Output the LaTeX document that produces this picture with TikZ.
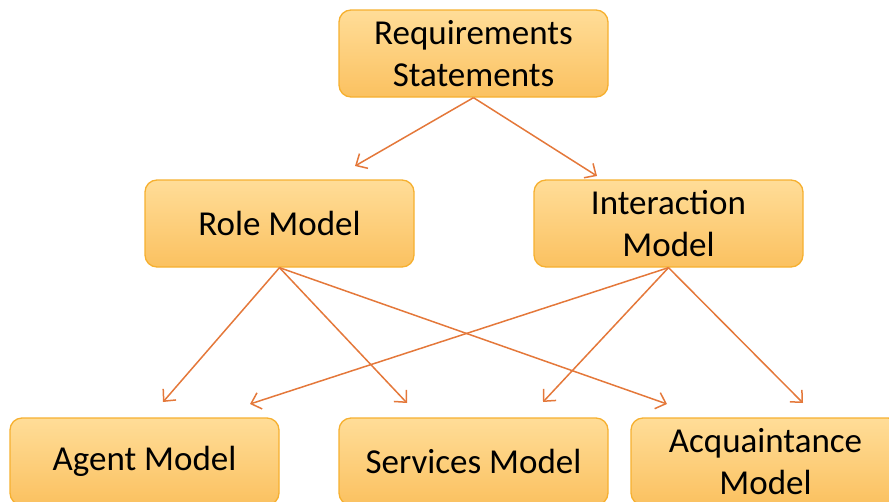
\documentclass[tikz,border=0pt]{standalone}
\usepackage{fontspec}
\setmainfont{Carlito}
\usetikzlibrary{arrows.meta,positioning}
\definecolor{boxtop}{HTML}{FFDD98}
\definecolor{boxbottom}{HTML}{FBC160}
\definecolor{boxline}{HTML}{F6B030}
\definecolor{arrowline}{HTML}{E4783A}
\tikzset{model/.style={rectangle,rounded corners=12pt,draw=boxline,line width=1.3pt,top color=boxtop,bottom color=boxbottom,minimum width=269pt,minimum height=87pt,align=center,font=\fontsize{35}{42}\selectfont,text=black}}
\tikzset{>={Straight Barb[length=9pt,width=17pt]},flow/.style={->,draw=arrowline,line width=1.5pt}}

\begin{document}
\begin{tikzpicture}[x=1pt,y=-1pt]
        \useasboundingbox (0,0) rectangle (889,501);
        \clip (0,0) rectangle (889,501);
        \node[model] (req) at (473.5,53.5) {Requirements\\Statements};
        \node[model] (role) at (279.5,223.5) {Role Model};
        \node[model] (inter) at (668.5,223.5) {Interaction\\Model};

        \node[model] (agent) at (144.5,461.5) {Agent Model};
        \node[model] (serv) at (473.5,461.5) {Services Model};
        \node[model,text depth=0pt] (acq) at (765.5,461.5) {Acquaintance\\Model};

        % arrow tips, above the boxes
        \coordinate (roleIn) at (355,166);
        \coordinate (interIn) at (597,176);
        \coordinate (agentInA) at (163,402);
        \coordinate (agentInB) at (250,404);
        \coordinate (servInA) at (407,403);
        \coordinate (servInB) at (543,402);
        \coordinate (acqInA) at (667,404);
        \coordinate (acqInB) at (803,403);

        \draw[flow] (req.south) -- (roleIn);
        \draw[flow] (req.south) -- (interIn);
        \draw[flow] (role.south) -- (agentInA);
        \draw[flow] (role.south) -- (servInA);
        \draw[flow] (role.south) -- (acqInA);
        \draw[flow] (inter.south) -- (agentInB);
        \draw[flow] (inter.south) -- (servInB);
        \draw[flow] (inter.south) -- (acqInB);
    \end{tikzpicture}
\end{document}
